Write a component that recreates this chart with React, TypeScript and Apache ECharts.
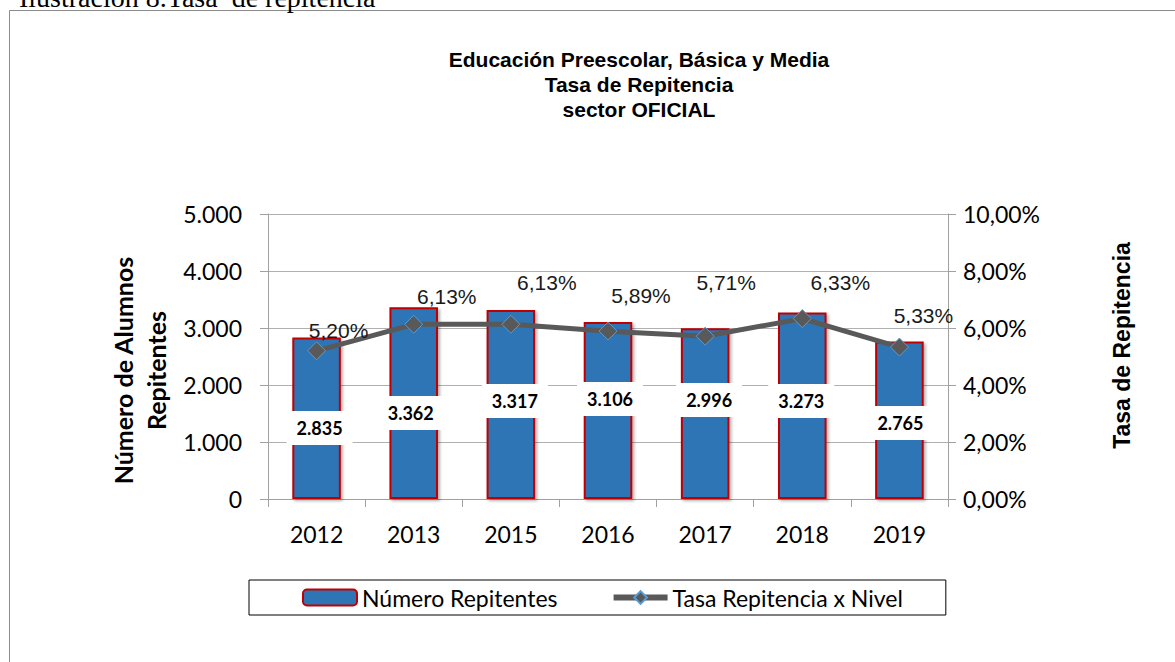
import React, { useEffect, useRef } from "react";
import * as echarts from "echarts";

const years = ["2012", "2013", "2015", "2016", "2017", "2018", "2019"];
const repitentes = [2835, 3362, 3317, 3106, 2996, 3273, 2765];
const tasa = [5.2, 6.13, 6.13, 5.89, 5.71, 6.33, 5.33];
const leftTicks = { min: 0, max: 5000, interval: 1000 };
const rightTicks = { min: 0, max: 10, interval: 2 };

// label placement tweaks (style only)
const barLabelDistance = [54, 69, 81, 83, 82, 81, 59];
const barLabelDx = [3, -3, 4, 2, 4, -1, 1];
const lineLabelOffset = [
  [22, 5],
  [33, -3],
  [36, -17],
  [33, -11],
  [21, -29],
  [38, -11],
  [24, -7],
];

const thousands = (v: number) =>
  String(Math.round(v)).replace(/\B(?=(\d{3})+(?!\d))/g, ".");
const pct = (v: number) => v.toFixed(2).replace(".", ",") + "%";

export default function App() {
  const ref = useRef<HTMLDivElement>(null);
  useEffect(() => {
    if (!ref.current) return;
    const chart = echarts.init(ref.current, undefined, { renderer: "svg" });
    const axisGray = "#a0a0a0";
    chart.setOption({
      animation: false,
      backgroundColor: "#ffffff",
      title: {
        text: "Educación Preescolar, Básica y Media\nTasa de Repitencia\nsector OFICIAL",
        left: 634,
        top: 42,
        textAlign: "center",
        textStyle: {
          fontFamily: "Liberation Sans, Arial",
          fontWeight: "bold",
          fontSize: 21,
          lineHeight: 25,
          color: "#000",
          align: "center",
        },
      },
      graphic: [
        {
          type: "rect",
          shape: { x: 9.5, y: 10.5, width: 1250, height: 700 },
          style: { fill: "none", stroke: "#8c8c8c", lineWidth: 1 },
          silent: true,
        },
        {
          type: "text",
          x: 19,
          y: -3,
          style: {
            text: "Ilustración 8.Tasa  de repitencia",
            font: "28px 'Liberation Serif', 'Times New Roman', serif",
            fill: "#000",
            verticalAlign: "middle",
          },
          silent: true,
        },
      ],
      legend: {
        left: 249,
        top: 580,
        orient: "horizontal",
        borderColor: "#000",
        borderWidth: 1,
        padding: [6, 43, 6, 53],
        itemGap: 53,
        itemWidth: 54,
        itemHeight: 16,
        textStyle: { fontFamily: "Lato", fontSize: 23, color: "#000" },
        data: [
          { name: "Número Repitentes" },
          { name: "Tasa Repitencia x Nivel", lineStyle: { width: 6, color: "#595959" } },
        ],
      },
      grid: { left: 268, right: 227, top: 214, bottom: 163 },
      xAxis: {
        type: "category",
        data: years,
        axisLine: { lineStyle: { color: axisGray, width: 1 } },
        axisTick: { show: true, length: 8, alignWithLabel: false, lineStyle: { color: axisGray } },
        axisLabel: { fontFamily: "Lato", fontSize: 23, color: "#000", margin: 23 },
      },
      yAxis: [
        {
          type: "value",
          ...leftTicks,
          name: "Número de Alumnos\nRepitentes",
          nameLocation: "middle",
          nameRotate: 90,
          nameGap: 73,
          nameTextStyle: {
            fontFamily: "Lato",
            fontWeight: "bold",
            fontSize: 25,
            lineHeight: 33,
            color: "#000",
            padding: [0, 28, 0, 0],
          },
          axisLine: { show: true, lineStyle: { color: axisGray } },
          axisTick: { show: true, length: 8, lineStyle: { color: axisGray } },
          splitLine: { show: true, lineStyle: { color: "#b0b0b0", width: 1 } },
          axisLabel: {
            fontFamily: "Lato",
            fontSize: 23,
            color: "#000",
            margin: 26,
            formatter: (v: number) => thousands(v),
          },
        },
        {
          type: "value",
          ...rightTicks,
          position: "right",
          name: "Tasa de Repitencia",
          nameLocation: "middle",
          nameRotate: 90,
          nameGap: 162,
          nameTextStyle: {
            fontFamily: "Liberation Sans, Arial",
            fontWeight: "bold",
            fontSize: 23,
            color: "#000",
            padding: [0, 0, 0, 22],
          },
          axisLine: { show: true, lineStyle: { color: axisGray } },
          axisTick: { show: true, length: 8, lineStyle: { color: axisGray } },
          splitLine: { show: false },
          axisLabel: {
            fontFamily: "Lato",
            fontSize: 23,
            color: "#000",
            margin: 15,
            formatter: (v: number) => pct(v),
          },
        },
      ],
      series: [
        {
          name: "Número Repitentes",
          type: "bar",
          yAxisIndex: 0,
          barWidth: "50%",
          itemStyle: {
            color: "#2E75B6",
            borderColor: "#C00000",
            borderWidth: 2,
            shadowBlur: 3,
            shadowColor: "rgba(0,0,0,0.3)",
            shadowOffsetX: 2,
            shadowOffsetY: 2,
          },
          label: {
            show: true,
            position: "insideBottom",
            backgroundColor: "#ffffff",
            padding: [8, 10, 8, 10],
            fontFamily: "Lato",
            fontWeight: "bold",
            fontSize: 18,
            color: "#000",
            formatter: (p: any) => thousands(p.value),
          },
          data: repitentes.map((v, i) => ({
            value: v,
            label: { distance: barLabelDistance[i], offset: [barLabelDx[i], 0] },
          })),
          z: 2,
        },
        {
          name: "Tasa Repitencia x Nivel",
          type: "line",
          yAxisIndex: 1,
          symbol: "diamond",
          symbolSize: 18,
          lineStyle: { color: "#595959", width: 5 },
          itemStyle: { color: "#595959", borderColor: "#5B9BD5", borderWidth: 1 },
          label: {
            show: true,
            position: "top",
            distance: 5,
            fontFamily: "Liberation Sans, Arial",
            fontSize: 21,
            color: "#1a1a1a",
            formatter: (p: any) => pct(p.value),
          },
          data: tasa.map((v, i) => ({
            value: v,
            label: { offset: lineLabelOffset[i] },
          })),
          z: 3,
        },
      ],
    });
    return () => chart.dispose();
  }, []);
  return (
    <div
      ref={ref}
      style={{ position: "fixed", left: 0, top: 0, width: 1175, height: 662 }}
    />
  );
}
